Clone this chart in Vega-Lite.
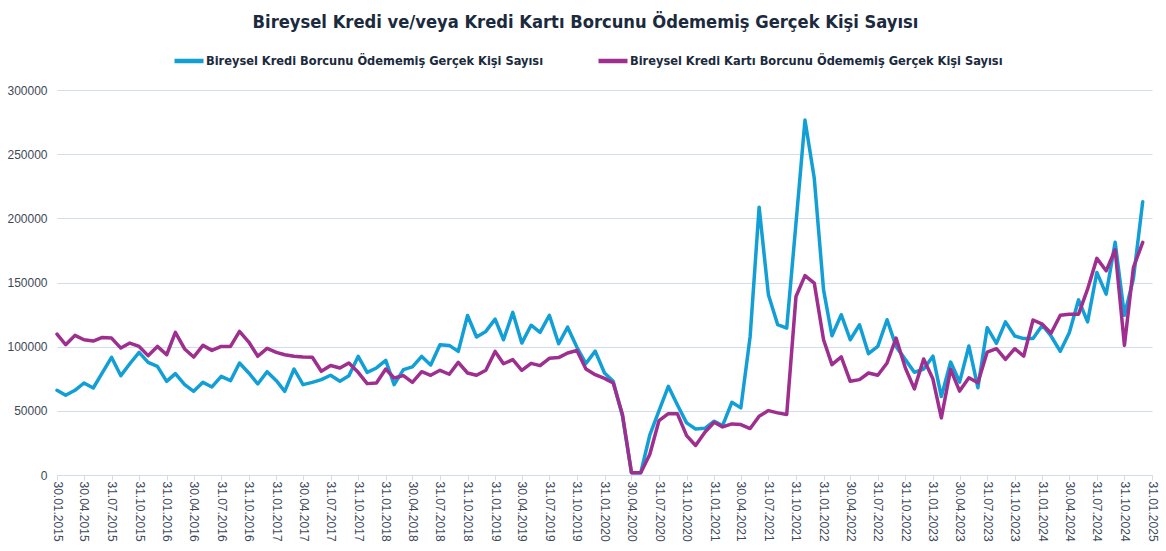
{
  "$schema": "https://vega.github.io/schema/vega-lite/v6.json",
  "autosize": {"type": "none"},
  "padding": {"left": 57, "top": 90, "right": 14, "bottom": 76},
  "width": 1095,
  "height": 385,
  "background": "white",
  "title": {
    "text": "Bireysel Kredi ve/veya Kredi Kartı Borcunu Ödememiş Gerçek Kişi Sayısı",
    "font": "DejaVu Sans Condensed",
    "fontSize": 18.2,
    "fontWeight": "bold",
    "color": "#1B2A3D",
    "anchor": "middle",
    "frame": "group",
    "dx": -19,
    "offset": 12
  },
  "config": {
    "view": {"stroke": null},
    "axis": {"labelFont": "Liberation Sans", "labelFontSize": 12, "labelColor": "#3E4959"}
  },
  "data": {
    "values": [
      {"date": "2015-01-30", "kredi": 66000, "kart": 109800},
      {"date": "2015-02-28", "kredi": 62100, "kart": 101500},
      {"date": "2015-03-31", "kredi": 66000, "kart": 108800},
      {"date": "2015-04-30", "kredi": 71700, "kart": 105400},
      {"date": "2015-05-31", "kredi": 67800, "kart": 104400},
      {"date": "2015-06-30", "kredi": 79500, "kart": 107200},
      {"date": "2015-07-31", "kredi": 91700, "kart": 106700},
      {"date": "2015-08-31", "kredi": 77400, "kart": 98900},
      {"date": "2015-09-30", "kredi": 86700, "kart": 102800},
      {"date": "2015-10-31", "kredi": 95600, "kart": 100200},
      {"date": "2015-11-30", "kredi": 87800, "kart": 93000},
      {"date": "2015-12-31", "kredi": 84700, "kart": 100200},
      {"date": "2016-01-31", "kredi": 73000, "kart": 93700},
      {"date": "2016-02-29", "kredi": 79000, "kart": 111100},
      {"date": "2016-03-31", "kredi": 70400, "kart": 98200},
      {"date": "2016-04-30", "kredi": 65200, "kart": 91900},
      {"date": "2016-05-31", "kredi": 72200, "kart": 101000},
      {"date": "2016-06-30", "kredi": 68600, "kart": 97100},
      {"date": "2016-07-31", "kredi": 76900, "kart": 100200},
      {"date": "2016-08-31", "kredi": 73500, "kart": 100200},
      {"date": "2016-09-30", "kredi": 87300, "kart": 111900},
      {"date": "2016-10-31", "kredi": 79500, "kart": 103600},
      {"date": "2016-11-30", "kredi": 70900, "kart": 92500},
      {"date": "2016-12-31", "kredi": 80500, "kart": 98700},
      {"date": "2017-01-31", "kredi": 73500, "kart": 95600},
      {"date": "2017-02-28", "kredi": 65200, "kart": 93700},
      {"date": "2017-03-31", "kredi": 82600, "kart": 92500},
      {"date": "2017-04-30", "kredi": 70400, "kart": 91900},
      {"date": "2017-05-31", "kredi": 72200, "kart": 91700},
      {"date": "2017-06-30", "kredi": 74300, "kart": 80800},
      {"date": "2017-07-31", "kredi": 77700, "kart": 85300},
      {"date": "2017-08-31", "kredi": 73000, "kart": 83400},
      {"date": "2017-09-30", "kredi": 77400, "kart": 87300},
      {"date": "2017-10-31", "kredi": 92400, "kart": 80000},
      {"date": "2017-11-30", "kredi": 80000, "kart": 71200},
      {"date": "2017-12-31", "kredi": 83400, "kart": 71700},
      {"date": "2018-01-31", "kredi": 89300, "kart": 82600},
      {"date": "2018-02-28", "kredi": 70400, "kart": 75600},
      {"date": "2018-03-31", "kredi": 82100, "kart": 77400},
      {"date": "2018-04-30", "kredi": 84200, "kart": 72200},
      {"date": "2018-05-31", "kredi": 92400, "kart": 80500},
      {"date": "2018-06-30", "kredi": 85700, "kart": 77700},
      {"date": "2018-07-31", "kredi": 101500, "kart": 81600},
      {"date": "2018-08-31", "kredi": 101000, "kart": 78500},
      {"date": "2018-09-30", "kredi": 96300, "kart": 87800},
      {"date": "2018-10-31", "kredi": 124300, "kart": 79500},
      {"date": "2018-11-30", "kredi": 107500, "kart": 77700},
      {"date": "2018-12-31", "kredi": 111900, "kart": 81600},
      {"date": "2019-01-31", "kredi": 121500, "kart": 96300},
      {"date": "2019-02-28", "kredi": 105400, "kart": 86700},
      {"date": "2019-03-31", "kredi": 126700, "kart": 89900},
      {"date": "2019-04-30", "kredi": 102800, "kart": 81600},
      {"date": "2019-05-31", "kredi": 116700, "kart": 87000},
      {"date": "2019-06-30", "kredi": 111100, "kart": 85200},
      {"date": "2019-07-31", "kredi": 124500, "kart": 90900},
      {"date": "2019-08-31", "kredi": 102300, "kart": 91500},
      {"date": "2019-09-30", "kredi": 115200, "kart": 95100},
      {"date": "2019-10-31", "kredi": 99500, "kart": 97000},
      {"date": "2019-11-30", "kredi": 86900, "kart": 82600},
      {"date": "2019-12-31", "kredi": 96500, "kart": 78200},
      {"date": "2020-01-31", "kredi": 79500, "kart": 75300},
      {"date": "2020-02-29", "kredi": 73000, "kart": 71700},
      {"date": "2020-03-31", "kredi": 45800, "kart": 47100},
      {"date": "2020-04-30", "kredi": 1800, "kart": 1700},
      {"date": "2020-05-31", "kredi": 1800, "kart": 1700},
      {"date": "2020-06-30", "kredi": 31000, "kart": 16000},
      {"date": "2020-07-31", "kredi": 50200, "kart": 42400},
      {"date": "2020-08-31", "kredi": 69100, "kart": 47800},
      {"date": "2020-09-30", "kredi": 54800, "kart": 47800},
      {"date": "2020-10-31", "kredi": 40600, "kart": 30700},
      {"date": "2020-11-30", "kredi": 35900, "kart": 23000},
      {"date": "2020-12-31", "kredi": 36400, "kart": 33300},
      {"date": "2021-01-31", "kredi": 41900, "kart": 41100},
      {"date": "2021-02-28", "kredi": 38500, "kart": 37500},
      {"date": "2021-03-31", "kredi": 56600, "kart": 39800},
      {"date": "2021-04-30", "kredi": 52300, "kart": 39300},
      {"date": "2021-05-31", "kredi": 108000, "kart": 36200},
      {"date": "2021-06-30", "kredi": 208700, "kart": 45800},
      {"date": "2021-07-31", "kredi": 140400, "kart": 50200},
      {"date": "2021-08-31", "kredi": 117100, "kart": 48400},
      {"date": "2021-09-30", "kredi": 114500, "kart": 47100},
      {"date": "2021-10-31", "kredi": 196200, "kart": 139100},
      {"date": "2021-11-30", "kredi": 276600, "kart": 155400},
      {"date": "2021-12-31", "kredi": 231200, "kart": 149500},
      {"date": "2022-01-31", "kredi": 144300, "kart": 105400},
      {"date": "2022-02-28", "kredi": 108500, "kart": 86000},
      {"date": "2022-03-31", "kredi": 124900, "kart": 92000},
      {"date": "2022-04-30", "kredi": 105400, "kart": 73000},
      {"date": "2022-05-31", "kredi": 117100, "kart": 74300},
      {"date": "2022-06-30", "kredi": 94500, "kart": 79500},
      {"date": "2022-07-31", "kredi": 100200, "kart": 77700},
      {"date": "2022-08-31", "kredi": 121000, "kart": 87300},
      {"date": "2022-09-30", "kredi": 100200, "kart": 106700},
      {"date": "2022-10-31", "kredi": 89900, "kart": 83400},
      {"date": "2022-11-30", "kredi": 80000, "kart": 67100},
      {"date": "2022-12-31", "kredi": 82600, "kart": 90400},
      {"date": "2023-01-31", "kredi": 92600, "kart": 74800},
      {"date": "2023-02-28", "kredi": 61100, "kart": 44500},
      {"date": "2023-03-31", "kredi": 88000, "kart": 82300},
      {"date": "2023-04-30", "kredi": 72400, "kart": 65400},
      {"date": "2023-05-31", "kredi": 100500, "kart": 75800},
      {"date": "2023-06-30", "kredi": 68000, "kart": 71900},
      {"date": "2023-07-31", "kredi": 114800, "kart": 95800},
      {"date": "2023-08-31", "kredi": 102600, "kart": 98400},
      {"date": "2023-09-30", "kredi": 119300, "kart": 90100},
      {"date": "2023-10-31", "kredi": 108300, "kart": 98400},
      {"date": "2023-11-30", "kredi": 106300, "kart": 92700},
      {"date": "2023-12-31", "kredi": 106300, "kart": 120800},
      {"date": "2024-01-31", "kredi": 116700, "kart": 117500},
      {"date": "2024-02-29", "kredi": 108300, "kart": 110400},
      {"date": "2024-03-31", "kredi": 96400, "kart": 124500},
      {"date": "2024-04-30", "kredi": 110900, "kart": 125300},
      {"date": "2024-05-31", "kredi": 136500, "kart": 125300},
      {"date": "2024-06-30", "kredi": 119300, "kart": 144800},
      {"date": "2024-07-31", "kredi": 157800, "kart": 168800},
      {"date": "2024-08-31", "kredi": 140900, "kart": 159100},
      {"date": "2024-09-30", "kredi": 181300, "kart": 175500},
      {"date": "2024-10-31", "kredi": 124500, "kart": 101000},
      {"date": "2024-11-30", "kredi": 153100, "kart": 161700},
      {"date": "2024-12-31", "kredi": 213000, "kart": 181300}
    ]
  },
  "transform": [
    {"fold": ["kredi", "kart"], "as": ["seri", "deger"]}
  ],
  "encoding": {
    "x": {
      "field": "date",
      "type": "temporal",
      "title": null,
      "scale": {
        "type": "utc",
        "nice": false,
        "domain": [
          {"year": 2015, "month": 1, "date": 30, "utc": true},
          {"year": 2025, "month": 1, "date": 31, "utc": true}
        ]
      },
      "axis": {
        "values": [
          {"year": 2015, "month": 1, "date": 30, "utc": true},
          {"year": 2015, "month": 4, "date": 30, "utc": true},
          {"year": 2015, "month": 7, "date": 31, "utc": true},
          {"year": 2015, "month": 10, "date": 31, "utc": true},
          {"year": 2016, "month": 1, "date": 31, "utc": true},
          {"year": 2016, "month": 4, "date": 30, "utc": true},
          {"year": 2016, "month": 7, "date": 31, "utc": true},
          {"year": 2016, "month": 10, "date": 31, "utc": true},
          {"year": 2017, "month": 1, "date": 31, "utc": true},
          {"year": 2017, "month": 4, "date": 30, "utc": true},
          {"year": 2017, "month": 7, "date": 31, "utc": true},
          {"year": 2017, "month": 10, "date": 31, "utc": true},
          {"year": 2018, "month": 1, "date": 31, "utc": true},
          {"year": 2018, "month": 4, "date": 30, "utc": true},
          {"year": 2018, "month": 7, "date": 31, "utc": true},
          {"year": 2018, "month": 10, "date": 31, "utc": true},
          {"year": 2019, "month": 1, "date": 31, "utc": true},
          {"year": 2019, "month": 4, "date": 30, "utc": true},
          {"year": 2019, "month": 7, "date": 31, "utc": true},
          {"year": 2019, "month": 10, "date": 31, "utc": true},
          {"year": 2020, "month": 1, "date": 31, "utc": true},
          {"year": 2020, "month": 4, "date": 30, "utc": true},
          {"year": 2020, "month": 7, "date": 31, "utc": true},
          {"year": 2020, "month": 10, "date": 31, "utc": true},
          {"year": 2021, "month": 1, "date": 31, "utc": true},
          {"year": 2021, "month": 4, "date": 30, "utc": true},
          {"year": 2021, "month": 7, "date": 31, "utc": true},
          {"year": 2021, "month": 10, "date": 31, "utc": true},
          {"year": 2022, "month": 1, "date": 31, "utc": true},
          {"year": 2022, "month": 4, "date": 30, "utc": true},
          {"year": 2022, "month": 7, "date": 31, "utc": true},
          {"year": 2022, "month": 10, "date": 31, "utc": true},
          {"year": 2023, "month": 1, "date": 31, "utc": true},
          {"year": 2023, "month": 4, "date": 30, "utc": true},
          {"year": 2023, "month": 7, "date": 31, "utc": true},
          {"year": 2023, "month": 10, "date": 31, "utc": true},
          {"year": 2024, "month": 1, "date": 31, "utc": true},
          {"year": 2024, "month": 4, "date": 30, "utc": true},
          {"year": 2024, "month": 7, "date": 31, "utc": true},
          {"year": 2024, "month": 10, "date": 31, "utc": true},
          {"year": 2025, "month": 1, "date": 31, "utc": true}
        ],
        "labelExpr": "utcFormat(datum.value, '%d.%m.%Y')",
        "labelAngle": 90,
        "labelAlign": "left",
        "labelBaseline": "middle",
        "labelPadding": 1,
        "labelOverlap": false,
        "labelFlush": false,
        "grid": false,
        "domainColor": "#D0DDEC",
        "domainWidth": 1,
        "tickColor": "#D0DDEC",
        "tickSize": 5,
        "tickWidth": 1
      }
    },
    "y": {
      "field": "deger",
      "type": "quantitative",
      "title": null,
      "scale": {"domain": [0, 300000], "nice": false},
      "axis": {
        "values": [0, 50000, 100000, 150000, 200000, 250000, 300000],
        "format": "d",
        "domain": false,
        "ticks": false,
        "labelPadding": 10,
        "grid": true,
        "gridColor": "#D0DDEC",
        "gridWidth": 1
      }
    },
    "color": {
      "field": "seri",
      "type": "nominal",
      "scale": {"domain": ["kredi", "kart"], "range": ["#129FD6", "#9E2F8F"]},
      "legend": {
        "title": null,
        "orient": "none",
        "legendX": 115,
        "legendY": -46,
        "direction": "horizontal",
        "symbolType": "stroke",
        "symbolSize": 841,
        "symbolStrokeWidth": 4.5,
        "labelFont": "DejaVu Sans Condensed",
        "labelFontSize": 12.7,
        "labelFontWeight": "bold",
        "labelColor": "#1B2A3D",
        "labelOffset": 0,
        "labelLimit": 0,
        "columnPadding": 45,
        "padding": 0,
        "labelExpr": "datum.value == 'kredi' ? 'Bireysel Kredi Borcunu Ödememiş Gerçek Kişi Sayısı' : 'Bireysel Kredi Kartı Borcunu Ödememiş Gerçek Kişi Sayısı'"
      }
    }
  },
  "layer": [
    {
      "transform": [{"filter": "datum.seri == 'kredi'"}],
      "mark": {"type": "line", "strokeWidth": 3.5, "strokeJoin": "round", "strokeCap": "round"}
    },
    {
      "transform": [{"filter": "datum.seri == 'kart'"}],
      "mark": {"type": "line", "strokeWidth": 3.5, "strokeJoin": "round", "strokeCap": "round"}
    }
  ]
}
